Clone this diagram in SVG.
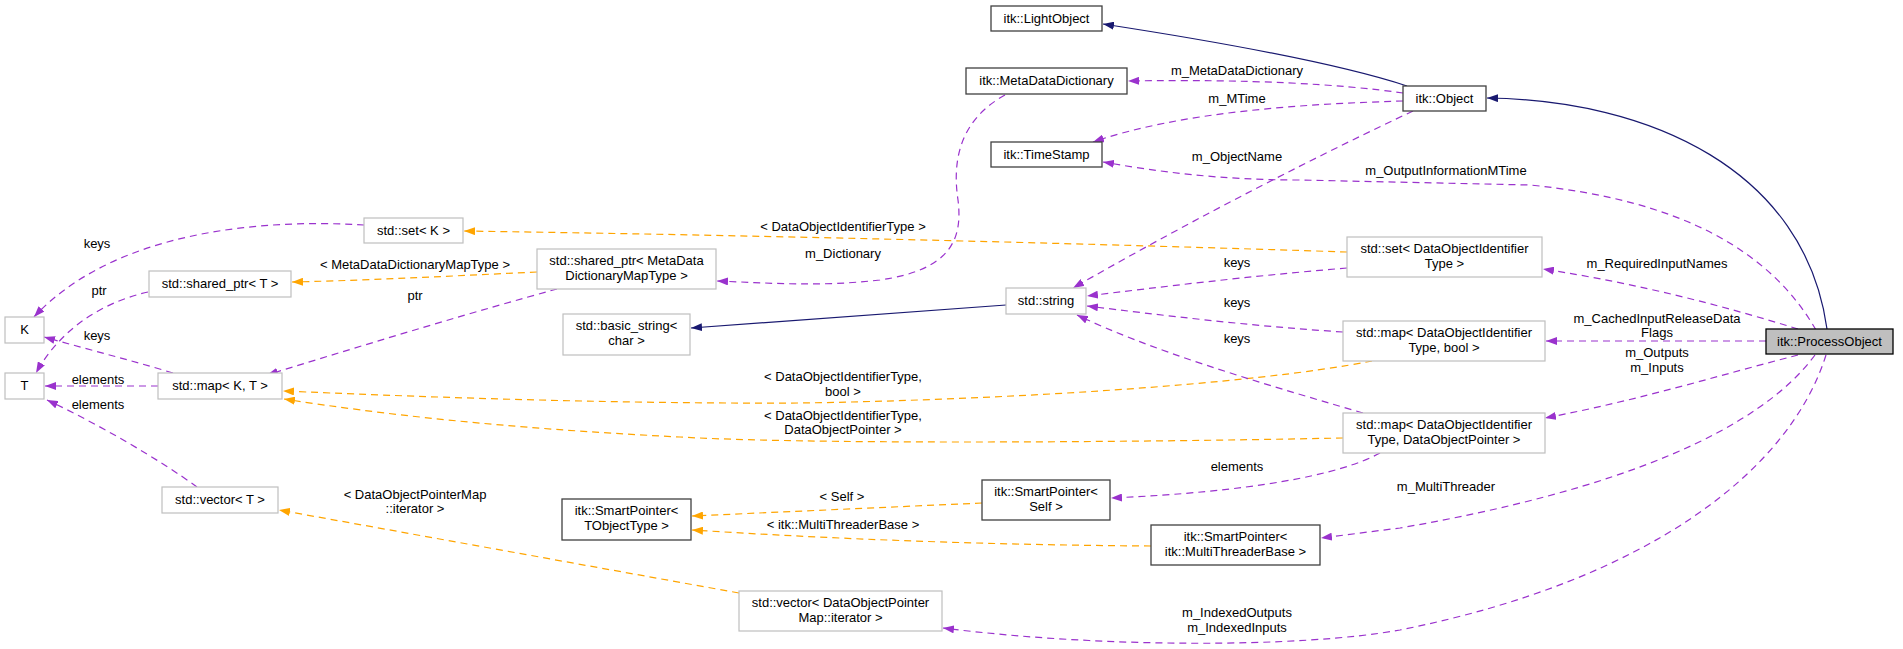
<svg xmlns="http://www.w3.org/2000/svg" width="1903" height="649" viewBox="0 0 1903 649">
<style>
text{font-family:"Liberation Sans",Arial,Helvetica,sans-serif;font-size:13px;fill:#000;text-anchor:middle}
.g rect{fill:#fff;stroke:#bfbfbf;stroke-width:1.2}
.k rect{fill:#fff;stroke:#404040;stroke-width:1.3}
.cur rect{fill:#bfbfbf;stroke:#000;stroke-width:1.3}
.e path{fill:none;stroke-width:1.2}
.p{stroke:#9a32cd;stroke-dasharray:7,5;marker-end:url(#ap)}
.o{stroke:#ffa500;stroke-dasharray:7,5;marker-end:url(#ao)}
.b{stroke:#191970;marker-end:url(#ab)}
</style>
<defs>
<marker id="ap" markerUnits="userSpaceOnUse" markerWidth="12" markerHeight="8" refX="11" refY="4" orient="auto"><path d="M0,0 L11,4 L0,8 z" fill="#9a32cd"/></marker>
<marker id="ao" markerUnits="userSpaceOnUse" markerWidth="12" markerHeight="8" refX="11" refY="4" orient="auto"><path d="M0,0 L11,4 L0,8 z" fill="#ffa500"/></marker>
<marker id="ab" markerUnits="userSpaceOnUse" markerWidth="12" markerHeight="8" refX="11" refY="4" orient="auto"><path d="M0,0 L11,4 L0,8 z" fill="#191970"/></marker>
</defs>
<rect width="1903" height="649" fill="#fff"/>
<g id="edges" class="e">
<path class="b" d="M1407,86 C1340,64 1220,42 1103,24"/>
<path class="b" d="M1827,329 C1805,170 1650,100 1487,98"/>
<path class="p" d="M1403,93 C1340,84 1250,79 1128,81"/>
<path class="p" d="M1403,101 C1300,104 1180,112 1093,142"/>
<path class="p" d="M1816,330 C1770,250 1680,200 1530,185 L1300,180 C1220,180 1160,172 1103,162"/>
<path class="p" d="M1413,111 C1330,150 1200,215 1073,288"/>
<path class="p" d="M1005,95 C960,120 952,160 958,200 C963,240 950,270 880,280 C820,287 770,283 717,281"/>
<path class="o" d="M1347,252 C1100,244 800,236 464,231"/>
<path class="p" d="M364,225 C250,218 110,235 34,317"/>
<path class="o" d="M537,272 C450,276 380,280 292,282"/>
<path class="p" d="M148,292 C100,303 60,330 36,373"/>
<path class="p" d="M557,289 C480,310 380,340 267,375"/>
<path class="p" d="M173,373 C130,360 90,350 44,337"/>
<path class="p" d="M158,386 L45,386"/>
<path class="p" d="M197,487 C160,460 100,425 47,400"/>
<path class="o" d="M1372,361 C1250,385 1000,400 800,403 C600,404 400,396 283,391"/>
<path class="o" d="M1343,438 C1100,443 800,444 680,437 C500,428 380,414 284,399"/>
<path class="p" d="M1363,413 C1250,380 1150,350 1077,315"/>
<path class="p" d="M1343,332 C1250,326 1160,315 1087,306"/>
<path class="p" d="M1347,268 C1250,276 1160,287 1087,296"/>
<path class="b" d="M1006,305 L691,328"/>
<path class="p" d="M1798,329 C1720,305 1640,284 1543,269"/>
<path class="p" d="M1766,341 L1546,341"/>
<path class="p" d="M1798,355 C1720,375 1640,400 1545,418"/>
<path class="p" d="M1815,355 C1760,430 1620,490 1400,528 L1321,538"/>
<path class="p" d="M1826,355 C1790,470 1650,580 1400,630 C1300,648 1100,648 943,628"/>
<path class="o" d="M982,503 L692,516"/>
<path class="o" d="M1151,546 C1000,545 850,540 692,530"/>
<path class="p" d="M1380,453 C1340,475 1250,492 1111,498"/>
<path class="o" d="M739,593 L279,510"/>
</g>
<g id="labels">
<text x="1237" y="75">m_MetaDataDictionary</text>
<text x="1237" y="103">m_MTime</text>
<text x="1237" y="161">m_ObjectName</text>
<text x="1446" y="175">m_OutputInformationMTime</text>
<text x="843" y="258">m_Dictionary</text>
<text x="843" y="231">&lt; DataObjectIdentifierType &gt;</text>
<text x="97" y="248">keys</text>
<text x="99" y="295">ptr</text>
<text x="415" y="269">&lt; MetaDataDictionaryMapType &gt;</text>
<text x="415" y="300">ptr</text>
<text x="97" y="340">keys</text>
<text x="98" y="384">elements</text>
<text x="98" y="409">elements</text>
<text x="415" y="499">&lt; DataObjectPointerMap</text>
<text x="415" y="513">::iterator &gt;</text>
<text x="843" y="381">&lt; DataObjectIdentifierType,</text>
<text x="843" y="396">bool &gt;</text>
<text x="843" y="420">&lt; DataObjectIdentifierType,</text>
<text x="843" y="434">DataObjectPointer &gt;</text>
<text x="1237" y="267">keys</text>
<text x="1237" y="307">keys</text>
<text x="1237" y="343">keys</text>
<text x="1237" y="471">elements</text>
<text x="842" y="501">&lt; Self &gt;</text>
<text x="843" y="529">&lt; itk::MultiThreaderBase &gt;</text>
<text x="1657" y="268">m_RequiredInputNames</text>
<text x="1657" y="323">m_CachedInputReleaseData</text>
<text x="1657" y="337">Flags</text>
<text x="1657" y="357">m_Outputs</text>
<text x="1657" y="372">m_Inputs</text>
<text x="1446" y="491">m_MultiThreader</text>
<text x="1237" y="617">m_IndexedOutputs</text>
<text x="1237" y="632">m_IndexedInputs</text>
</g>
<g id="n_ProcessObject" class="cur"><rect x="1766" y="329" width="127" height="25"/><text x="1829.5" y="346">itk::ProcessObject</text></g>
<g id="n_Object" class="k"><rect x="1403" y="86" width="83" height="25"/><text x="1444.5" y="103">itk::Object</text></g>
<g id="n_LightObject" class="k"><rect x="991" y="6" width="111" height="25"/><text x="1046.5" y="23">itk::LightObject</text></g>
<g id="n_MetaDataDictionary" class="k"><rect x="966" y="68" width="161" height="26"/><text x="1046.5" y="85">itk::MetaDataDictionary</text></g>
<g id="n_TimeStamp" class="k"><rect x="991" y="142" width="111" height="25"/><text x="1046.5" y="159">itk::TimeStamp</text></g>
<g id="n_string" class="g"><rect x="1006" y="288" width="80" height="26"/><text x="1046" y="305">std::string</text></g>
<g id="n_setDOIT" class="g"><rect x="1347" y="237" width="195" height="40"/><text x="1444.5" y="253">std::set&lt; DataObjectIdentifier</text><text x="1444.5" y="268">Type &gt;</text></g>
<g id="n_mapDOITbool" class="g"><rect x="1343" y="321" width="202" height="40"/><text x="1444" y="337">std::map&lt; DataObjectIdentifier</text><text x="1444" y="352">Type, bool &gt;</text></g>
<g id="n_mapDOITDOP" class="g"><rect x="1343" y="413" width="202" height="40"/><text x="1444" y="429">std::map&lt; DataObjectIdentifier</text><text x="1444" y="444">Type, DataObjectPointer &gt;</text></g>
<g id="n_SPSelf" class="k"><rect x="982" y="480" width="128" height="40"/><text x="1046" y="496">itk::SmartPointer&lt;</text><text x="1046" y="511">Self &gt;</text></g>
<g id="n_SPMTB" class="k"><rect x="1151" y="525" width="169" height="40"/><text x="1235.5" y="541">itk::SmartPointer&lt;</text><text x="1235.5" y="556">itk::MultiThreaderBase &gt;</text></g>
<g id="n_vecDOPM" class="g"><rect x="739" y="591" width="203" height="40"/><text x="840.5" y="607">std::vector&lt; DataObjectPointer</text><text x="840.5" y="622">Map::iterator &gt;</text></g>
<g id="n_SPT" class="k"><rect x="562" y="499" width="129" height="41"/><text x="626.5" y="515">itk::SmartPointer&lt;</text><text x="626.5" y="530">TObjectType &gt;</text></g>
<g id="n_basic_string" class="g"><rect x="563" y="314" width="127" height="41"/><text x="626.5" y="330">std::basic_string&lt;</text><text x="626.5" y="345">char &gt;</text></g>
<g id="n_sharedMDD" class="g"><rect x="537" y="249" width="179" height="40"/><text x="626.5" y="265">std::shared_ptr&lt; MetaData</text><text x="626.5" y="280">DictionaryMapType &gt;</text></g>
<g id="n_setK" class="g"><rect x="364" y="218" width="99" height="25"/><text x="413.5" y="235">std::set&lt; K &gt;</text></g>
<g id="n_sharedT" class="g"><rect x="149" y="271" width="142" height="26"/><text x="220" y="288">std::shared_ptr&lt; T &gt;</text></g>
<g id="n_K" class="g"><rect x="5" y="317" width="39" height="26"/><text x="24.5" y="334">K</text></g>
<g id="n_T" class="g"><rect x="5" y="373" width="39" height="26"/><text x="24.5" y="390">T</text></g>
<g id="n_mapKT" class="g"><rect x="158" y="373" width="124" height="26"/><text x="220" y="390">std::map&lt; K, T &gt;</text></g>
<g id="n_vecT" class="g"><rect x="162" y="487" width="116" height="26"/><text x="220" y="504">std::vector&lt; T &gt;</text></g>
</svg>
